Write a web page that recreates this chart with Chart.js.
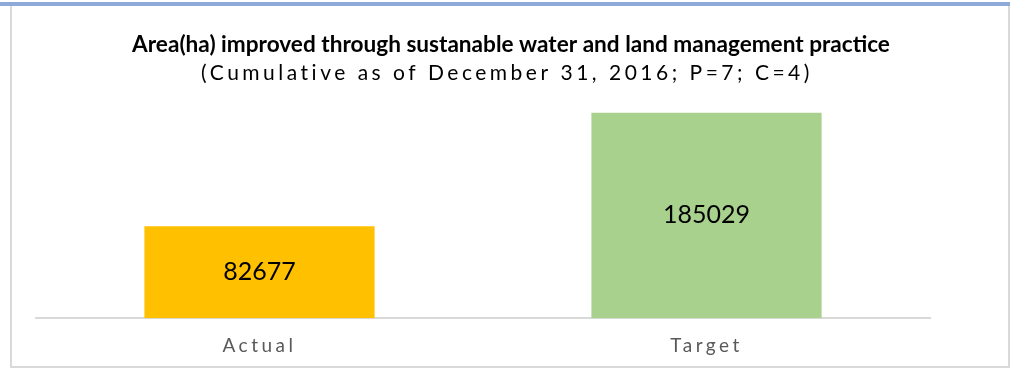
<!DOCTYPE html>
<html>
<head>
<meta charset="utf-8">
<script src="https://cdn.jsdelivr.net/npm/chart.js@4.4.1/dist/chart.umd.min.js"></script>
<style>
  body { margin: 0; background: #fff; }
  #wrap { position: relative; width: 1010px; height: 370px; }
  #topbar { position: absolute; left: 0; top: 2px; width: 1010px; height: 4px; background: #8eaadb; }
  #frame { position: absolute; left: 10px; top: 6px; width: 996px; height: 360px; border: 2px solid #d9d9d9; border-top: none; }
  canvas { position: absolute; left: 0; top: 0; }
</style>
</head>
<body>
<div id="wrap">
  <div id="topbar"></div>
  <div id="frame"></div>
  <canvas id="chart" width="1010" height="370"></canvas>
</div>
<script>
const categories = ['Actual', 'Target'];
const values = [82677, 185029];
const barColors = ['#FFC000', '#A9D18E'];
const chartTitle = 'Area(ha) improved through sustanable water and land management practice';
const chartSubtitle = '(Cumulative as of December 31, 2016; P=7; C=4)';

// titles + value labels drawn here so letter spacing can be set
const textPlugin = {
  id: 'textPlugin',
  beforeDraw(chart) {
    chart.ctx.letterSpacing = '3.5px';
  },
  afterDatasetsDraw(chart) {
    const ctx = chart.ctx;
    ctx.save();
    ctx.letterSpacing = '0px';
    ctx.font = '25px Lato';
    ctx.fillStyle = '#000';
    ctx.textAlign = 'center';
    ctx.textBaseline = 'middle';
    chart.getDatasetMeta(0).data.forEach((bar, i) => {
      const p = bar.getProps(['x', 'y', 'base'], true);
      ctx.fillText(String(values[i]), p.x, (p.y + p.base) / 2);
    });
    ctx.restore();
  },
  afterDraw(chart) {
    const ctx = chart.ctx;
    ctx.save();
    ctx.textAlign = 'center';
    ctx.textBaseline = 'middle';
    ctx.fillStyle = '#000';
    ctx.letterSpacing = '0px';
    ctx.font = 'bold 22.6px Lato';
    ctx.fillText(chartTitle, 511, 45);
    ctx.letterSpacing = '3.5px';
    ctx.font = '21px Lato';
    ctx.fillText(chartSubtitle, 507, 73);
    ctx.restore();
    chart.ctx.letterSpacing = '0px';
  }
};

new Chart(document.getElementById('chart'), {
  type: 'bar',
  data: {
    labels: categories,
    datasets: [{
      data: values,
      backgroundColor: barColors,
      barPercentage: 0.515,
      categoryPercentage: 1
    }]
  },
  options: {
    responsive: false,
    animation: false,
    layout: { padding: { left: 36, right: 80, top: 96, bottom: -3 } },
    plugins: {
      legend: { display: false },
      tooltip: { enabled: false }
    },
    scales: {
      x: {
        grid: { display: false, drawTicks: false },
        border: { display: true, color: '#d9d9d9', width: 2 },
        ticks: { color: '#595959', font: { family: 'Lato', size: 19 }, padding: 16 }
      },
      y: {
        display: false,
        min: 0,
        max: 200000
      }
    }
  },
  plugins: [textPlugin]
});
</script>
</body>
</html>
